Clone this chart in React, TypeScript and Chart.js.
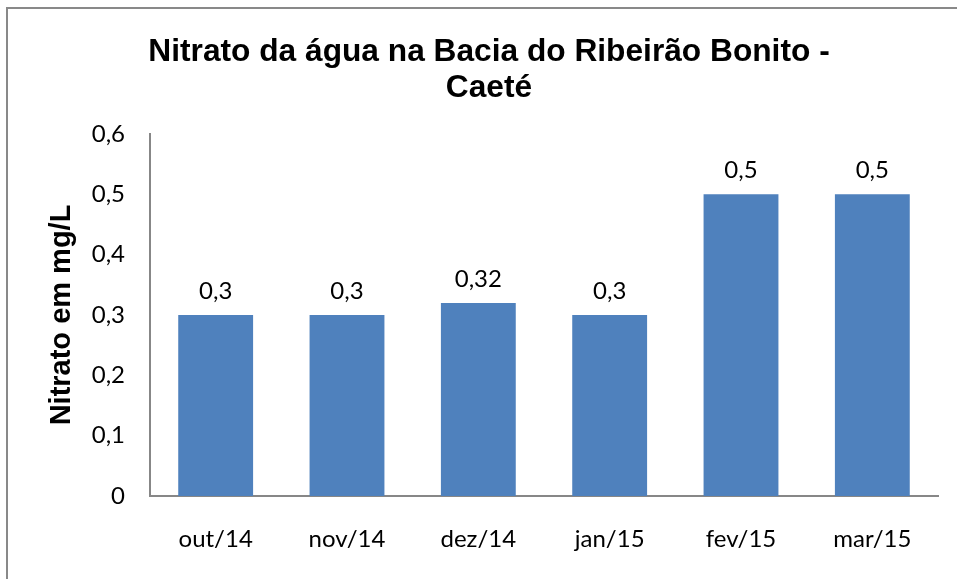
import React, { useEffect, useRef } from "react";
import { Chart, registerables } from "chart.js";

Chart.register(...registerables);

const categories = ["out/14", "nov/14", "dez/14", "jan/15", "fev/15", "mar/15"];
const nitrato = [0.3, 0.3, 0.32, 0.3, 0.5, 0.5];
const dataLabels = ["0,3", "0,3", "0,32", "0,3", "0,5", "0,5"];
const titleLines = ["Nitrato da água na Bacia do Ribeirão Bonito -", "Caeté"];
const yTitle = "Nitrato em mg/L";

const tickFont = "Lato";

const labelPlugin = {
  id: "barLabels",
  afterDatasetsDraw(chart: any) {
    const ctx = chart.ctx;
    const meta = chart.getDatasetMeta(0);
    ctx.save();
    ctx.fillStyle = "#000";
    ctx.font = `24px ${tickFont}`;
    ctx.textAlign = "center";
    ctx.textBaseline = "alphabetic";
    meta.data.forEach((el: any, i: number) => {
      ctx.fillText(dataLabels[i], el.x, el.y - 16);
    });
    ctx.restore();
  },
};

export default function App() {
  const ref = useRef<HTMLCanvasElement | null>(null);
  useEffect(() => {
    if (!ref.current) return;
    const chart = new Chart(ref.current, {
      type: "bar",
      data: {
        labels: categories,
        datasets: [
          {
            data: nitrato,
            backgroundColor: "#4F81BD",
            borderWidth: 0,
            barPercentage: 0.57,
            categoryPercentage: 1,
          },
        ],
      },
      options: {
        animation: false,
        responsive: false,
        layout: { padding: { left: 40, right: 19, top: 0, bottom: 0 } },
        plugins: {
          legend: { display: false },
          tooltip: { enabled: false },
          title: {
            display: true,
            text: titleLines,
            color: "#000",
            font: { family: "Liberation Sans", size: 31.7, weight: "bold", lineHeight: 36 / 31.7 },
            padding: { top: 34, bottom: 28 },
          },
        },
        scales: {
          x: {
            grid: { display: false, drawTicks: false },
            border: { display: true, color: "#878787", width: 2 },
            ticks: { color: "#000", font: { family: tickFont, size: 24 }, padding: 29 },
            afterFit: (s: any) => {
              s.height = 83;
            },
          },
          y: {
            min: 0,
            max: 0.6,
            grid: { display: false, drawTicks: false },
            border: { display: true, color: "#878787", width: 2 },
            ticks: {
              stepSize: 0.1,
              color: "#000",
              font: { family: tickFont, size: 24 },
              padding: 25,
              callback: (v: any) => (Number(v) === 0 ? "0" : Number(v).toFixed(1).replace(".", ",")),
            },
            title: {
              display: true,
              text: yTitle,
              color: "#000",
              font: { family: "Liberation Sans", size: 29, weight: "bold", lineHeight: 1.2 },
              padding: { top: 5, bottom: 0 },
            },
            afterFit: (s: any) => {
              s.width = 110;
            },
          },
        },
      },
      plugins: [labelPlugin],
    });
    return () => chart.destroy();
  }, []);
  return (
    <div style={{ position: "fixed", left: 0, top: 0, width: 957, height: 579, background: "#fff" }}>
      <canvas ref={ref} width={957} height={579} style={{ display: "block" }} />
      <div style={{ position: "absolute", left: 6, top: 7, width: 2, height: 572, background: "#898989" }} />
      <div style={{ position: "absolute", left: 6, top: 7, width: 951, height: 2, background: "#898989" }} />
    </div>
  );
}
